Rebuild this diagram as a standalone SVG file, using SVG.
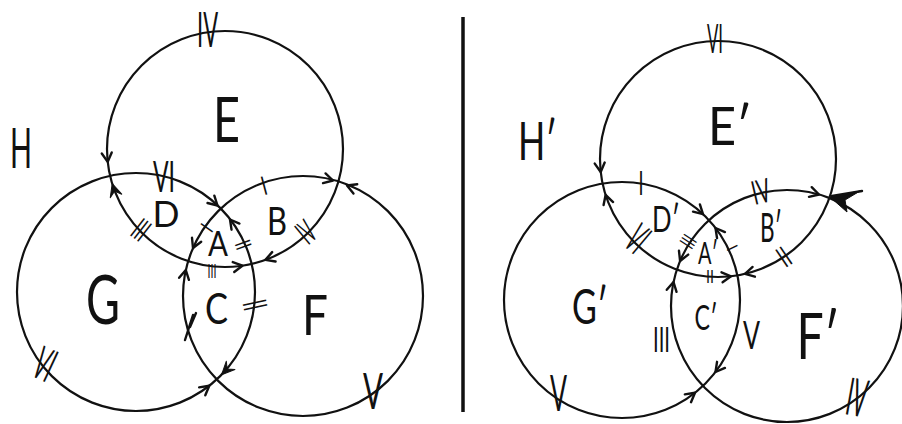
<svg xmlns="http://www.w3.org/2000/svg" xmlns:xlink="http://www.w3.org/1999/xlink" width="902" height="424" viewBox="0 0 902 424">
<style>
.c{fill:none;stroke:#111;stroke-width:2.2}
.ch{fill:none;stroke:#111;stroke-width:2.4;stroke-linecap:round;stroke-linejoin:round}
.fh{fill:#111;stroke:#111;stroke-width:1;stroke-linejoin:round}
.t{font-family:"Lato","Liberation Sans","DejaVu Sans",sans-serif;font-weight:400;fill:#111;text-anchor:middle}
.n{font-family:"Lato","Liberation Sans","DejaVu Sans",sans-serif;font-weight:400;fill:#111;text-anchor:middle}
</style>
<defs>
<path id="chev" class="ch" d="M-9,-5 L0,0 L-9,5"/>
<path id="fill" class="fh" d="M-13,-6 L0,0 L-13,6 L-8,0 Z"/>
</defs>
<rect width="902" height="424" fill="#fff"/>

<g id="divider"><line x1="463" y1="17" x2="463" y2="412" stroke="#111" stroke-width="3.5"/></g>

<g id="left">
<g id="circle-E"><circle class="c" cx="225" cy="149" r="118"/><text class="t" x="226.5" y="142" font-size="61" textLength="27" lengthAdjust="spacingAndGlyphs">E</text></g>
<g id="circle-G"><circle class="c" cx="136" cy="292" r="119"/><text class="t" x="103" y="324" font-size="68" textLength="34" lengthAdjust="spacingAndGlyphs">G</text></g>
<g id="circle-F"><circle class="c" cx="303" cy="296" r="120"/><text class="t" x="315" y="335" font-size="57" textLength="26" lengthAdjust="spacingAndGlyphs">F</text></g>
<g id="region-H"><text class="t" x="21" y="168" font-size="56" textLength="22" lengthAdjust="spacingAndGlyphs">H</text></g>
<g id="region-D"><text class="t" x="166" y="227" font-size="37" textLength="27" lengthAdjust="spacingAndGlyphs">D</text></g>
<g id="region-B"><text class="t" x="277" y="235" font-size="39" textLength="20" lengthAdjust="spacingAndGlyphs">B</text></g>
<g id="region-A"><text class="t" x="218" y="256" font-size="34" textLength="20" lengthAdjust="spacingAndGlyphs">A</text></g>
<g id="region-C"><text class="t" x="216.5" y="324" font-size="42" textLength="23" lengthAdjust="spacingAndGlyphs">C</text></g>

<g id="edge-labels-left">
<text class="n" transform="translate(207.5,29.5)" y="17.5" font-size="49" textLength="21" lengthAdjust="spacingAndGlyphs">IV</text>
<text class="n" transform="translate(164,177)" y="15" font-size="42" textLength="22" lengthAdjust="spacingAndGlyphs">VI</text>
<text class="n" transform="translate(264,186) rotate(-15)" y="9" font-size="26" textLength="5" lengthAdjust="spacingAndGlyphs">I</text>
<text class="n" transform="translate(141,230) rotate(38)" y="11" font-size="31" textLength="13" lengthAdjust="spacingAndGlyphs">III</text>
<text class="n" transform="translate(306,232) rotate(-40)" y="11.7" font-size="33" textLength="14" lengthAdjust="spacingAndGlyphs">IV</text>
<text class="n" transform="translate(243,245) rotate(70)" y="7.6" font-size="22" textLength="8" lengthAdjust="spacingAndGlyphs">II</text>
<text class="n" transform="translate(212,271)" y="6.9" font-size="19" textLength="9" lengthAdjust="spacingAndGlyphs">III</text>
<text class="n" transform="translate(255,305) rotate(78)" y="11.7" font-size="33" textLength="9" lengthAdjust="spacingAndGlyphs">II</text>
<text class="n" transform="translate(207,228) rotate(-55)" y="6.9" font-size="20" textLength="4" lengthAdjust="spacingAndGlyphs">I</text>
<text class="n" transform="translate(45,364) rotate(25)" y="16.5" font-size="46" textLength="18" lengthAdjust="spacingAndGlyphs">VI</text>
<text class="n" transform="translate(373,391)" y="17.9" font-size="50" textLength="20" lengthAdjust="spacingAndGlyphs">V</text>
</g>
</g>

<g id="right">
<g id="circle-E2"><circle class="c" cx="718" cy="159" r="118"/><text class="t" x="730" y="145" font-size="53" textLength="44" lengthAdjust="spacingAndGlyphs">E′</text></g>
<g id="circle-G2"><circle class="c" cx="622" cy="300" r="118"/><text class="t" x="590" y="324" font-size="49" textLength="36" lengthAdjust="spacingAndGlyphs">G′</text></g>
<g id="circle-F2"><circle class="c" cx="787" cy="306" r="116"/><text class="t" x="818" y="359" font-size="63" textLength="43" lengthAdjust="spacingAndGlyphs">F′</text></g>
<g id="region-H2"><text class="t" x="537.5" y="160" font-size="52" textLength="39" lengthAdjust="spacingAndGlyphs">H′</text></g>
<g id="region-D2"><text class="t" x="666" y="232" font-size="37" textLength="28" lengthAdjust="spacingAndGlyphs">D′</text></g>
<g id="region-B2"><text class="t" x="771" y="242" font-size="40" textLength="22" lengthAdjust="spacingAndGlyphs">B′</text></g>
<g id="region-A2"><text class="t" x="708" y="264" font-size="30" textLength="20" lengthAdjust="spacingAndGlyphs">A′</text></g>
<g id="region-C2"><text class="t" x="706" y="330" font-size="35" textLength="23" lengthAdjust="spacingAndGlyphs">C′</text></g>

<g id="edge-labels-right">
<text class="n" transform="translate(715,39)" y="14.1" font-size="40" textLength="16" lengthAdjust="spacingAndGlyphs">VI</text>
<text class="n" transform="translate(641,183.5)" y="11.4" font-size="32" textLength="5" lengthAdjust="spacingAndGlyphs">I</text>
<text class="n" transform="translate(761,191.5) rotate(-13)" y="11.7" font-size="33" textLength="18" lengthAdjust="spacingAndGlyphs">IV</text>
<text class="n" transform="translate(638,238.5) rotate(40)" y="15.1" font-size="42" textLength="16" lengthAdjust="spacingAndGlyphs">VI</text>
<text class="n" transform="translate(688,241.5) rotate(-57)" y="7.6" font-size="21" textLength="11" lengthAdjust="spacingAndGlyphs">III</text>
<text class="n" transform="translate(710,277)" y="6.2" font-size="17" textLength="8" lengthAdjust="spacingAndGlyphs">II</text>
<text class="n" transform="translate(784,257) rotate(-34)" y="10.3" font-size="29" textLength="10" lengthAdjust="spacingAndGlyphs">II</text>
<text class="n" transform="translate(732,248) rotate(64)" y="5.5" font-size="16" textLength="4" lengthAdjust="spacingAndGlyphs">I</text>
<text class="n" transform="translate(661.5,340)" y="12.4" font-size="35" textLength="17" lengthAdjust="spacingAndGlyphs">III</text>
<text class="n" transform="translate(751.5,335.5)" y="13.8" font-size="39" textLength="17" lengthAdjust="spacingAndGlyphs">V</text>
<text class="n" transform="translate(558.5,393.5)" y="17.9" font-size="50" textLength="17" lengthAdjust="spacingAndGlyphs">V</text>
<text class="n" transform="translate(857,398) rotate(10)" y="18" font-size="52" textLength="20" lengthAdjust="spacingAndGlyphs">IV</text>
</g>
</g>

<g id="connectors">
<use xlink:href="#chev" href="#chev" transform="translate(107.7,161.9) rotate(84)"/>
<use xlink:href="#fill" href="#fill" transform="translate(112.2,183.5) rotate(253)"/>
<use xlink:href="#chev" href="#chev" transform="translate(217.5,205.5) rotate(43)"/>
<use xlink:href="#chev" href="#chev" transform="translate(333,180.5) rotate(14.5)"/>
<use xlink:href="#chev" href="#chev" transform="translate(347,185.5) rotate(202)"/>
<use xlink:href="#chev" href="#chev" transform="translate(265.4,259.9) rotate(160)"/>
<use xlink:href="#chev" href="#chev" transform="translate(230,219.5) rotate(-127.6)"/>
<use xlink:href="#chev" href="#chev" transform="translate(193,248) rotate(113.5)"/>
<use xlink:href="#chev" href="#chev" transform="translate(185.8,270) rotate(281.5)"/>
<use xlink:href="#chev" href="#chev" transform="translate(242.4,265.7) rotate(-8.5)"/>
<use xlink:href="#fill" href="#fill" transform="translate(221.6,374.7) rotate(134)"/>
<use xlink:href="#chev" href="#chev" transform="translate(209.3,385.8) rotate(-38)"/>
<path class="ch" d="M185,340 L193,315 M190,327 L196,313"/>

<use xlink:href="#chev" href="#chev" transform="translate(600.7,172) rotate(83.7)"/>
<use xlink:href="#chev" href="#chev" transform="translate(605.6,195) rotate(252.2)"/>
<use xlink:href="#chev" href="#chev" transform="translate(703,214.2) rotate(43.4)"/>
<use xlink:href="#chev" href="#chev" transform="translate(819,194.5) rotate(16)"/>
<path class="fh" d="M830,197 L860,191 L845,200 L847,212 Z"/>
<path class="ch" d="M832,196 L862,191"/>
<use xlink:href="#chev" href="#chev" transform="translate(731,276.3) rotate(-6.3)"/>
<use xlink:href="#chev" href="#chev" transform="translate(745,273.9) rotate(166.8)"/>
<use xlink:href="#chev" href="#chev" transform="translate(680.1,261) rotate(112.8)"/>
<use xlink:href="#chev" href="#chev" transform="translate(673.5,282) rotate(281.9)"/>
<use xlink:href="#chev" href="#chev" transform="translate(715.5,228) rotate(-127.6)"/>
<use xlink:href="#chev" href="#chev" transform="translate(715.5,372) rotate(127.6)"/>
<use xlink:href="#chev" href="#chev" transform="translate(695,392.7) rotate(-38.2)"/>
</g>
</svg>
